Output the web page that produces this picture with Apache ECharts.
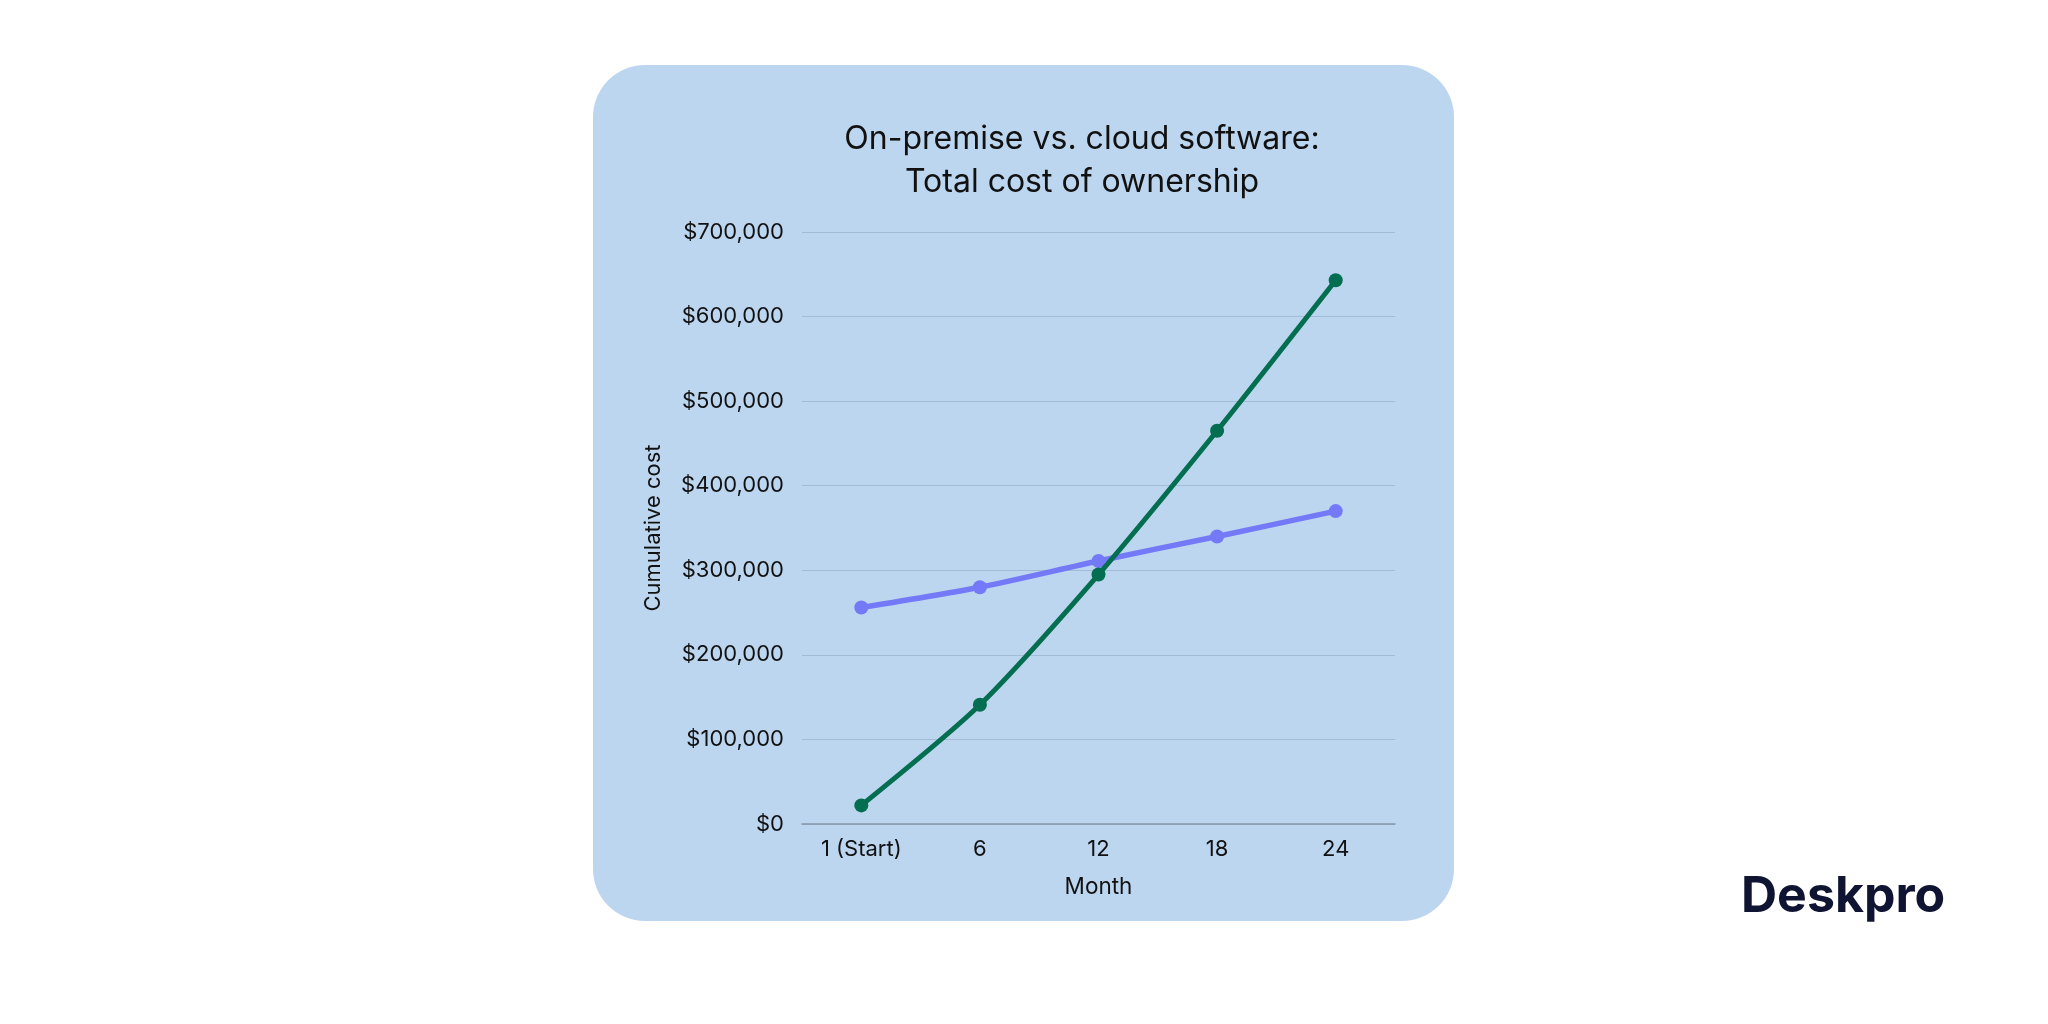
<!DOCTYPE html>
<html><head><meta charset="utf-8">
<script src="https://cdn.jsdelivr.net/npm/echarts@6/dist/echarts.min.js"></script>
<style>html,body{margin:0;padding:0;background:#fff}#c{width:2048px;height:1024px}</style>
</head><body><div id="c"></div>
<script>
const months = ['1 (Start)', '6', '12', '18', '24'];
const onPremise = [22000, 141000, 295000, 465000, 643000];
const cloud = [256000, 280000, 311000, 340000, 370000];
const yTicks = [0, 100000, 200000, 300000, 400000, 500000, 600000, 700000];

const chart = echarts.init(document.getElementById('c'));
const font = 'Inter, "Noto Sans", sans-serif';
chart.setOption({
  backgroundColor: '#ffffff',
  animation: false,
  graphic: [
    {type: 'rect', z: -10, shape: {x: 593, y: 65, width: 861, height: 856, r: 52}, style: {fill: '#bdd6f0'}},
    {type: 'text', left: 1741, top: 872, style: {text: 'Deskpro', font: 'bold 50px ' + font, fill: '#0f1433'}}
  ],
  title: {
    text: 'On-premise vs. cloud software:\nTotal cost of ownership',
    left: 1077, top: 113, textAlign: 'center',
    textStyle: {fontFamily: font, fontSize: 32, fontWeight: 'normal', color: '#111', lineHeight: 43}
  },
  grid: {left: 802, right: 653, top: 232, bottom: 200},
  xAxis: {
    type: 'category', data: months, boundaryGap: true,
    name: 'Month', nameLocation: 'middle', nameGap: 52,
    nameTextStyle: {fontFamily: font, fontSize: 22.5, color: '#111'},
    axisLine: {lineStyle: {color: '#8796a8', width: 1.5}},
    axisTick: {show: false},
    axisLabel: {fontFamily: font, fontSize: 22, color: '#111', margin: 14}
  },
  yAxis: {
    type: 'value', min: 0, max: 700000, interval: 100000,
    name: 'Cumulative cost', nameLocation: 'middle', nameGap: 138, nameRotate: 90,
    nameTextStyle: {fontFamily: font, fontSize: 22, color: '#111'},
    axisLine: {show: false}, axisTick: {show: false},
    splitLine: {lineStyle: {color: '#a3bbd6', width: 1.2}},
    axisLabel: {fontFamily: font, fontSize: 22, color: '#111', margin: 18,
      formatter: v => yTicks.includes(v) ? '$' + v.toLocaleString('en-US') : ''}
  },
  series: [
    {name: 'Cloud', type: 'line', data: cloud, smooth: 0.25, symbol: 'circle', symbolSize: 14,
      lineStyle: {color: '#7479f7', width: 5.5}, itemStyle: {color: '#7479f7'}, z: 2},
    {name: 'On-premise', type: 'line', data: onPremise, smooth: 0.25, symbol: 'circle', symbolSize: 14,
      lineStyle: {color: '#036e50', width: 5}, itemStyle: {color: '#036e50'}, z: 3}
  ]
});
</script></body></html>
